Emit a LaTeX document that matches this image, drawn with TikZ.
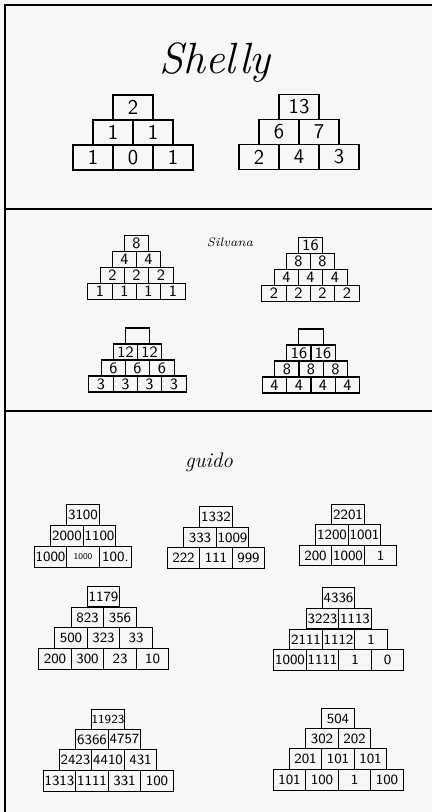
\documentclass[tikz,border=0pt]{standalone}
\usepackage{tikz}
\usetikzlibrary{positioning}

\begin{document}
\begin{tikzpicture}[
    brick/.style={draw, rectangle, minimum width=0.8cm, minimum height=0.5cm, inner sep=0pt, line width=0.8pt, font=\sffamily\large},
    smallbrick/.style={draw, rectangle, minimum width=0.485cm, minimum height=0.32cm, inner sep=0pt, line width=0.7pt, font=\sffamily\small},
    midbrick/.style={draw, rectangle, minimum width=0.65cm, minimum height=0.41cm, inner sep=0pt, line width=0.7pt, font=\sffamily\footnotesize},
    pupil/.style={font=\itshape},
    frameline/.style={line width=1.1pt},
]
  \fill[black!3] (0,0) rectangle (8.64,-16.24);
  \useasboundingbox (0,0) rectangle (8.64,-16.24);

  % frame and separators
  \draw[frameline] (0.10,-16.24) -- (0.10,-0.10) -- (8.64,-0.10);
  \draw[frameline] (0.10,-4.18) -- (8.64,-4.18);
  \draw[frameline] (0.10,-8.22) -- (8.64,-8.22);

  % Shelly
  \node[pupil, font=\Huge\itshape] (shelly) at (4.30,-1.25) {Shelly};

  \node[brick] (a1) at (2.66,-2.15) {2};
  \node[brick] (a2) at (2.26,-2.65) {1};
  \node[brick] (a3) at (3.06,-2.65) {1};
  \node[brick] (a4) at (1.86,-3.15) {1};
  \node[brick] (a5) at (2.66,-3.15) {0};
  \node[brick] (a6) at (3.46,-3.15) {1};

  \node[brick] (b1) at (5.98,-2.14) {13};
  \node[brick] (b2) at (5.58,-2.64) {6};
  \node[brick] (b3) at (6.38,-2.64) {7};
  \node[brick] (b4) at (5.18,-3.14) {2};
  \node[brick] (b5) at (5.98,-3.14) {4};
  \node[brick] (b6) at (6.78,-3.14) {3};

  % Silvana
  \node[pupil, font=\scriptsize\itshape] (silvana) at (4.60,-4.84) {Silvana};

  \node[smallbrick] (c1)  at (2.73,-4.87) {8};
  \node[smallbrick] (c2)  at (2.49,-5.19) {4};
  \node[smallbrick] (c3)  at (2.97,-5.19) {4};
  \node[smallbrick] (c4)  at (2.25,-5.51) {2};
  \node[smallbrick] (c5)  at (2.73,-5.51) {2};
  \node[smallbrick] (c6)  at (3.22,-5.51) {2};
  \node[smallbrick] (c7)  at (2.00,-5.83) {1};
  \node[smallbrick] (c8)  at (2.49,-5.83) {1};
  \node[smallbrick] (c9)  at (2.97,-5.83) {1};
  \node[smallbrick] (c10) at (3.46,-5.83) {1};

  \node[smallbrick] (d1)  at (6.21,-4.91) {16};
  \node[smallbrick] (d2)  at (5.97,-5.23) {8};
  \node[smallbrick] (d3)  at (6.45,-5.23) {8};
  \node[smallbrick] (d4)  at (5.73,-5.55) {4};
  \node[smallbrick] (d5)  at (6.21,-5.55) {4};
  \node[smallbrick] (d6)  at (6.70,-5.55) {4};
  \node[smallbrick] (d7)  at (5.48,-5.87) {2};
  \node[smallbrick] (d8)  at (5.97,-5.87) {2};
  \node[smallbrick] (d9)  at (6.45,-5.87) {2};
  \node[smallbrick] (d10) at (6.94,-5.87) {2};

  \node[smallbrick] (e1)  at (2.75,-6.72) {};
  \node[smallbrick] (e2)  at (2.51,-7.04) {12};
  \node[smallbrick] (e3)  at (2.99,-7.04) {12};
  \node[smallbrick] (e4)  at (2.27,-7.36) {6};
  \node[smallbrick] (e5)  at (2.75,-7.36) {6};
  \node[smallbrick] (e6)  at (3.24,-7.36) {6};
  \node[smallbrick] (e7)  at (2.02,-7.68) {3};
  \node[smallbrick] (e8)  at (2.51,-7.68) {3};
  \node[smallbrick] (e9)  at (2.99,-7.68) {3};
  \node[smallbrick] (e10) at (3.48,-7.68) {3};

  \node[smallbrick] (f1)  at (6.22,-6.74) {};
  \node[smallbrick] (f2)  at (5.98,-7.06) {16};
  \node[smallbrick] (f3)  at (6.46,-7.06) {16};
  \node[smallbrick] (f4)  at (5.74,-7.38) {8};
  \node[smallbrick] (f5)  at (6.22,-7.38) {8};
  \node[smallbrick] (f6)  at (6.71,-7.38) {8};
  \node[smallbrick] (f7)  at (5.49,-7.70) {4};
  \node[smallbrick] (f8)  at (5.98,-7.70) {4};
  \node[smallbrick] (f9)  at (6.46,-7.70) {4};
  \node[smallbrick] (f10) at (6.95,-7.70) {4};

  % Guido
  \node[pupil, font=\large\itshape] (guido) at (4.18,-9.24) {guido};

  \node[midbrick] (g1) at (1.66,-10.30) {3100};
  \node[midbrick] (g2) at (1.34,-10.72) {2000};
  \node[midbrick] (g3) at (1.99,-10.72) {1100};
  \node[midbrick] (g4) at (1.01,-11.14) {1000};
  \node[midbrick, font=\sffamily\tiny] (g5) at (1.66,-11.14) {1000};
  \node[midbrick] (g6) at (2.31,-11.14) {100.};

  \node[midbrick] (h1) at (4.32,-10.34) {1332};
  \node[midbrick] (h2) at (4.00,-10.75) {333};
  \node[midbrick] (h3) at (4.65,-10.75) {1009};
  \node[midbrick] (h4) at (3.67,-11.16) {222};
  \node[midbrick] (h5) at (4.32,-11.16) {111};
  \node[midbrick] (h6) at (4.97,-11.16) {999};

  \node[midbrick] (i1) at (6.96,-10.29) {2201};
  \node[midbrick] (i2) at (6.64,-10.70) {1200};
  \node[midbrick] (i3) at (7.29,-10.70) {1001};
  \node[midbrick] (i4) at (6.31,-11.11) {200};
  \node[midbrick] (i5) at (6.96,-11.11) {1000};
  \node[midbrick] (i6) at (7.61,-11.11) {1};

  \node[midbrick] (j1)  at (2.07,-11.93) {1179};
  \node[midbrick] (j2)  at (1.75,-12.35) {823};
  \node[midbrick] (j3)  at (2.40,-12.35) {356};
  \node[midbrick] (j4)  at (1.42,-12.76) {500};
  \node[midbrick] (j5)  at (2.07,-12.76) {323};
  \node[midbrick] (j6)  at (2.72,-12.76) {33};
  \node[midbrick] (j7)  at (1.10,-13.18) {200};
  \node[midbrick] (j8)  at (1.75,-13.18) {300};
  \node[midbrick] (j9)  at (2.40,-13.18) {23};
  \node[midbrick] (j10) at (3.05,-13.18) {10};

  \node[midbrick] (k1)  at (6.77,-11.96) {4336};
  \node[midbrick] (k2)  at (6.45,-12.37) {3223};
  \node[midbrick] (k3)  at (7.10,-12.37) {1113};
  \node[midbrick] (k4)  at (6.12,-12.79) {2111};
  \node[midbrick] (k5)  at (6.77,-12.79) {1112};
  \node[midbrick] (k6)  at (7.42,-12.79) {1};
  \node[midbrick] (k7)  at (5.80,-13.20) {1000};
  \node[midbrick] (k8)  at (6.45,-13.20) {1111};
  \node[midbrick] (k9)  at (7.10,-13.20) {1};
  \node[midbrick] (k10) at (7.75,-13.20) {0};

  \node[midbrick, font=\sffamily\scriptsize] (l1) at (2.16,-14.39) {11923};
  \node[midbrick] (l2)  at (1.84,-14.79) {6366};
  \node[midbrick] (l3)  at (2.49,-14.79) {4757};
  \node[midbrick] (l4)  at (1.51,-15.20) {2423};
  \node[midbrick] (l5)  at (2.16,-15.20) {4410};
  \node[midbrick] (l6)  at (2.81,-15.20) {431};
  \node[midbrick] (l7)  at (1.19,-15.62) {1313};
  \node[midbrick] (l8)  at (1.84,-15.62) {1111};
  \node[midbrick] (l9)  at (2.49,-15.62) {331};
  \node[midbrick] (l10) at (3.14,-15.62) {100};

  \node[midbrick] (m1)  at (6.76,-14.37) {504};
  \node[midbrick] (m2)  at (6.44,-14.77) {302};
  \node[midbrick] (m3)  at (7.09,-14.77) {202};
  \node[midbrick] (m4)  at (6.11,-15.18) {201};
  \node[midbrick] (m5)  at (6.76,-15.18) {101};
  \node[midbrick] (m6)  at (7.41,-15.18) {101};
  \node[midbrick] (m7)  at (5.79,-15.60) {101};
  \node[midbrick] (m8)  at (6.44,-15.60) {100};
  \node[midbrick] (m9)  at (7.09,-15.60) {1};
  \node[midbrick] (m10) at (7.74,-15.60) {100};
\end{tikzpicture}
\end{document}
